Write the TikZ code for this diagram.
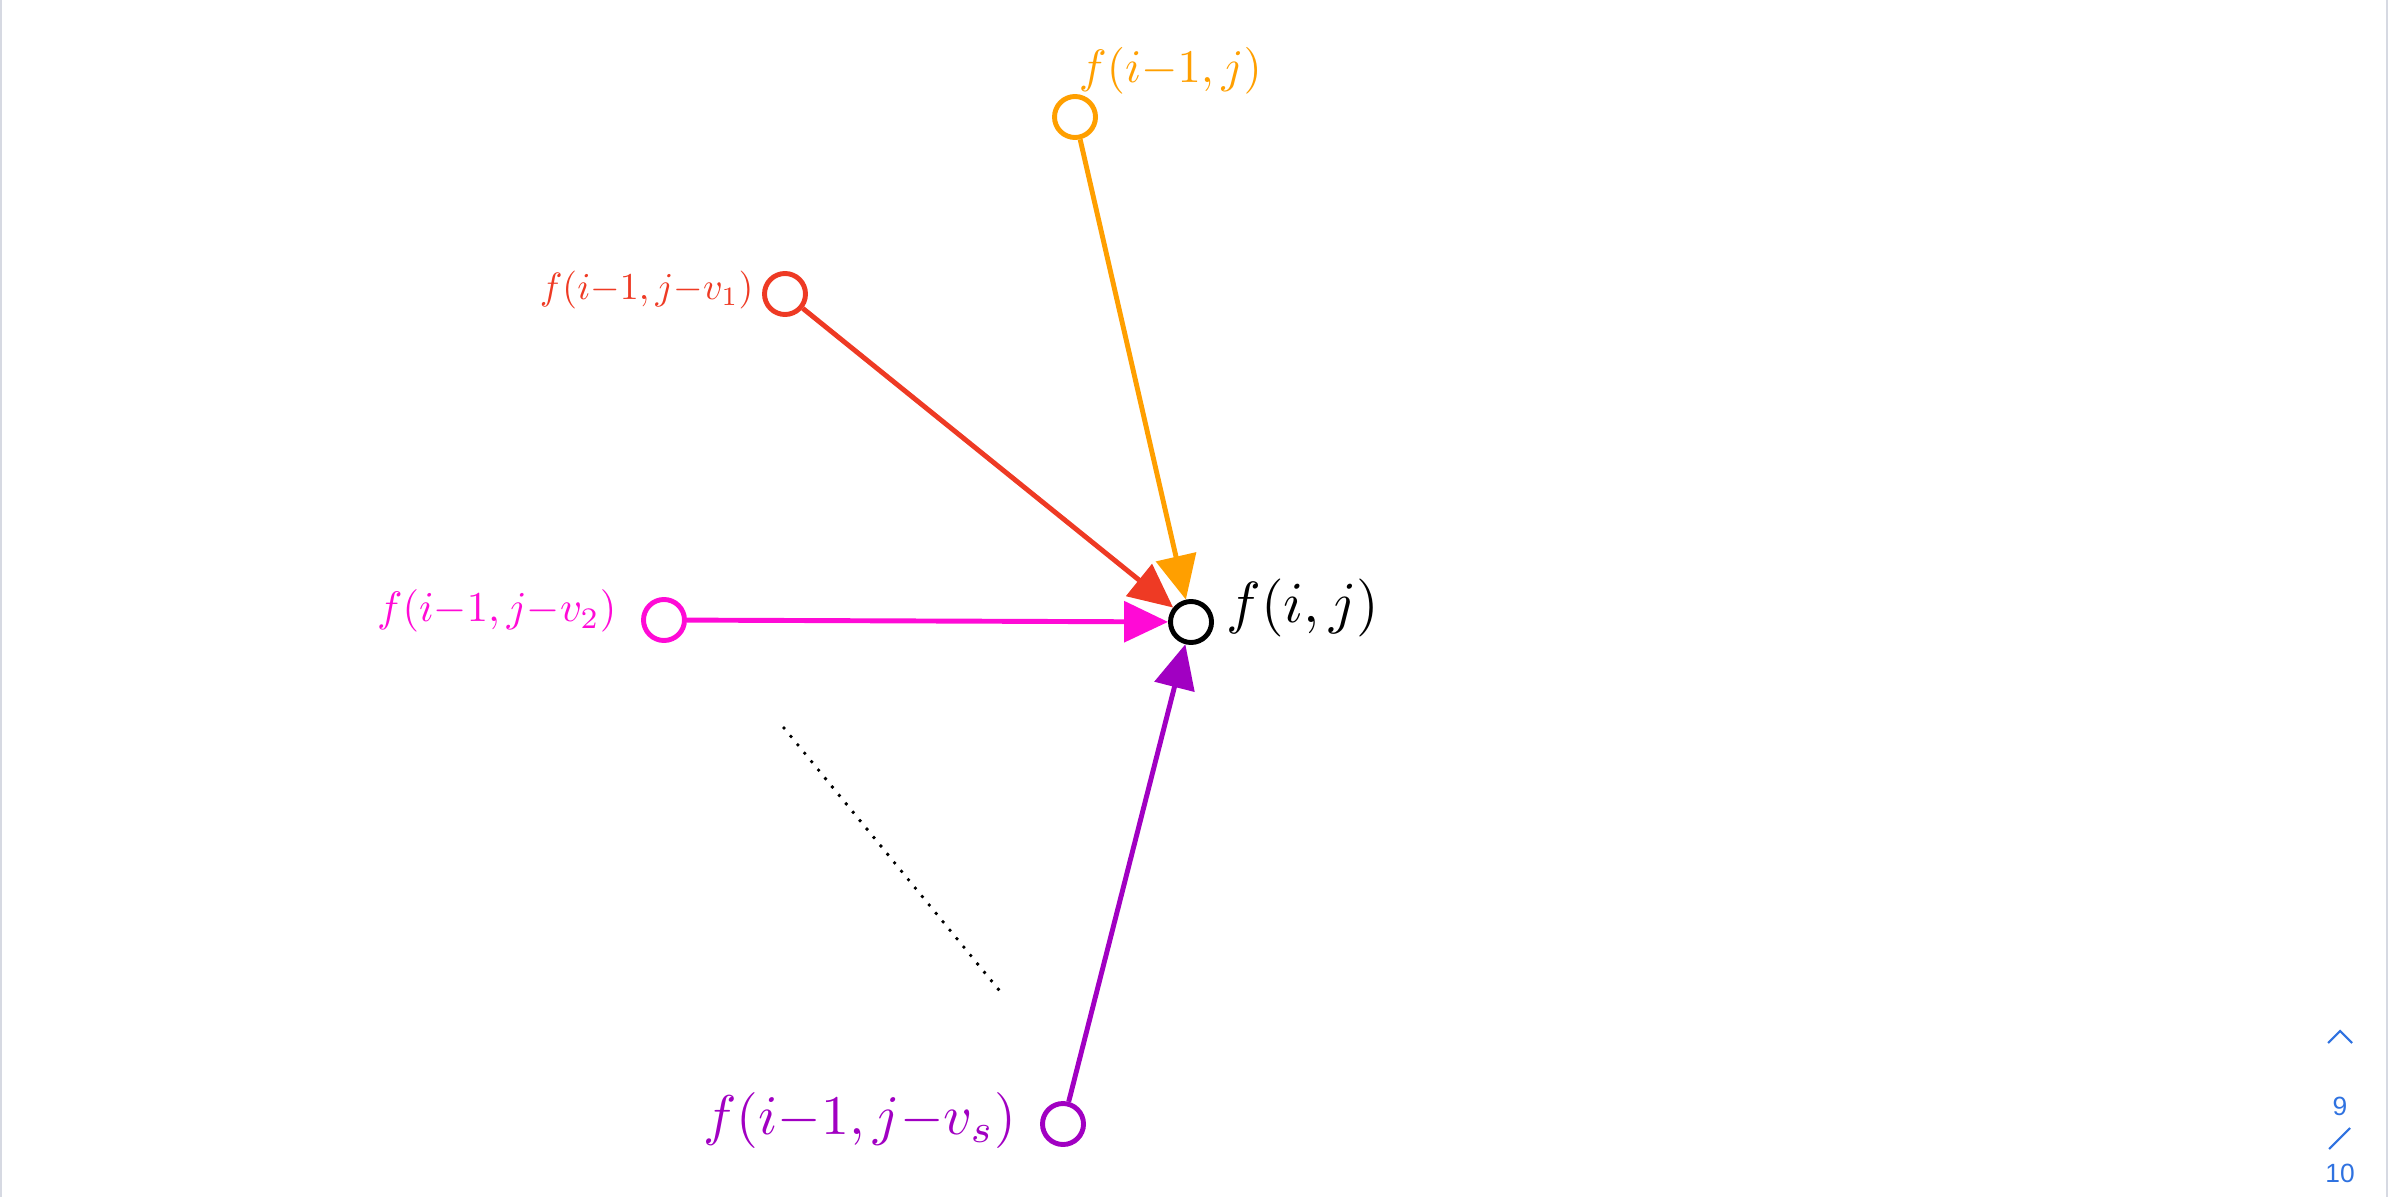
\documentclass[tikz,border=0pt]{standalone}
\usepackage{fontspec}
\usepackage{amsmath,graphicx}
\usepackage{xcolor}
\usetikzlibrary{arrows.meta,positioning}

\newfontfamily\navfont{Liberation Sans}
\definecolor{cOrange}{HTML}{FF9F00}
\definecolor{cRed}{HTML}{EE3A24}
\definecolor{cPink}{HTML}{FF0AD6}
\definecolor{cPurple}{HTML}{A100C2}
\definecolor{cNav}{HTML}{2F72E0}
\definecolor{cEdge}{HTML}{D6D9E2}

\begin{document}
\begin{tikzpicture}[
			x=0.01cm, y=-0.01cm,
			state/.style={circle, draw, line width=1.4pt, minimum size=0.41cm, inner sep=0pt, fill=white},
			fname/.style={inner sep=0pt},
			arrow/.style={line width=1.4pt, -{Triangle[length=12.5pt, width=11.5pt]}},
			dotline/.style={line width=1.1pt, line cap=round, dash pattern=on 0pt off 3.1pt},
			nav/.style={cNav, inner sep=0pt, font=\navfont\fontsize{7.5}{9}\selectfont}
			]
			\useasboundingbox (0,0) rectangle (2388,1197);
			\draw [cEdge, line width=0.6pt] (1,0) -- (1,1197);
			\draw [cEdge, line width=0.6pt] (2387,0) -- (2387,1197);
			
			% 节点定义
			\node (fij) [state] at (1191,622) {};
			\node (top) [state, draw=cOrange] at (1075,117) {};
			\node (v1) [state, draw=cRed] at (785,294) {};
			\node (v2) [state, draw=cPink] at (664,620) {};
			\node (vs) [state, draw=cPurple] at (1063,1124) {};
			
			% 标签
			\node (Lfij) [fname, right=0.12cm of fij, yshift=4pt] {\scalebox{1.65}{$f(i,j)$}};
			\node (Ltop) [fname, cOrange, above right=0.06cm and -0.13cm of top] {\scalebox{1.33}{$f(i{-}1,j)$}};
			\node (Lv1) [fname, cRed, left=0.08cm of v1, yshift=1pt] {\scalebox{1.08}{$f(i{-}1,j{-}v_1)$}};
			\node (Lv2) [fname, cPink, left=0.24cm of v2, yshift=2.5pt] {\scalebox{1.21}{$f(i{-}1,j{-}v_2)$}};
			\node (Lvs) [fname, cPurple, left=0.23cm of vs, yshift=1pt] {\scalebox{1.59}{$f(i{-}1,j{-}v_s)$}};
			
			% 边缘箭头
			\draw [arrow, cOrange] (top) -- (fij);
			\draw [arrow, cRed] (v1) -- (fij);
			\draw [arrow, cPink] (v2) -- (fij);
			\draw [arrow, cPurple] (vs) -- (fij);
			
			% 省略号
			\coordinate (dA) at (784,728);
			\coordinate (dB) at (999,990);
			\draw [dotline] (dA) -- (dB);
			
			% 页码
			\draw [cNav, line width=0.6pt] (2328,1043) -- (2340,1031) -- (2352,1043);
			\node (pg) [nav] at (2340,1106) {9};
			\draw [cNav, line width=0.6pt] (2329,1149) -- (2350,1128);
			\node (pgall) [nav] at (2340,1173) {10};
			
		\end{tikzpicture}
\end{document}
